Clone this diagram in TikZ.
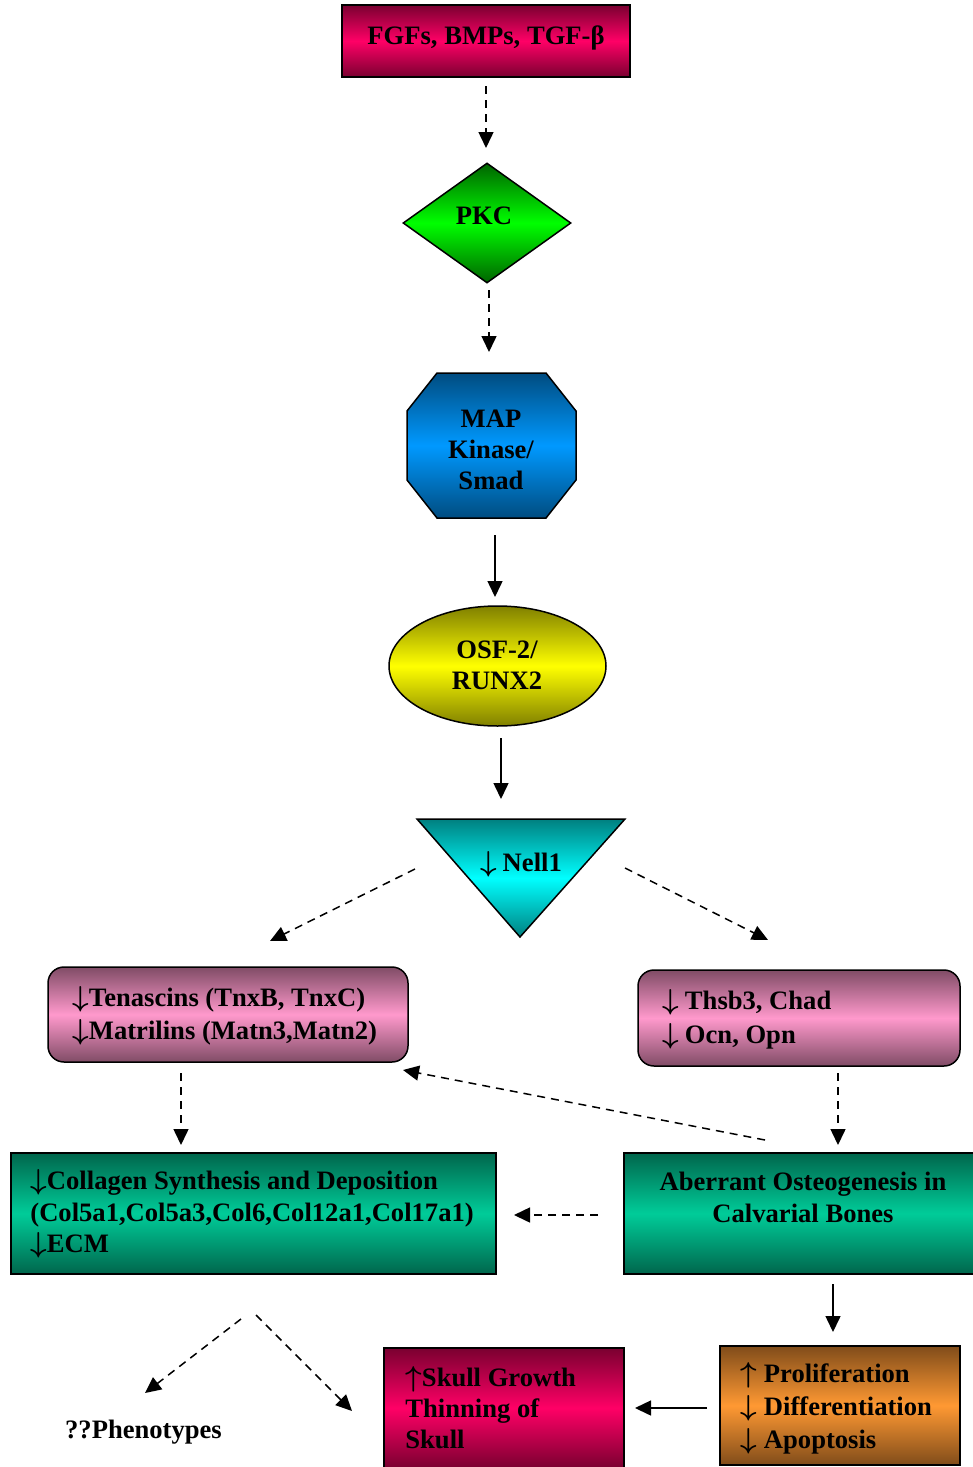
\documentclass[tikz,border=0pt]{standalone}
\usepackage{fontspec}
\setmainfont{Liberation Serif}
\usetikzlibrary{shapes.geometric,arrows.meta}
\definecolor{fgfdark}{HTML}{7A0030}
\definecolor{fgfmid}{HTML}{FF0066}
\definecolor{pkcdark}{HTML}{006400}
\definecolor{pkcmid}{HTML}{00FF00}
\definecolor{mapdark}{HTML}{004C80}
\definecolor{mapmid}{HTML}{0099FF}
\definecolor{osfdark}{HTML}{808000}
\definecolor{osfmid}{HTML}{FFFF00}
\definecolor{nelldark}{HTML}{008080}
\definecolor{nellmid}{HTML}{00FFFF}
\definecolor{pinkdark}{HTML}{804C66}
\definecolor{pinkmid}{HTML}{FF99CC}
\definecolor{greendark}{HTML}{00664C}
\definecolor{greenmid}{HTML}{00CC99}
\definecolor{orangedark}{HTML}{804C1A}
\definecolor{orangemid}{HTML}{FF9933}
\newcommand\myfnt[1]{\fontsize{13.3}{#1}\selectfont\bfseries}
\newcommand\mydn{{\boldmath$\downarrow$}}
\newcommand\myup{{\boldmath$\uparrow$}}
\tikzset{
  box/.style={draw=black, line width=0.75pt, inner sep=0pt},
  grad/.style 2 args={top color=#1, bottom color=#1, middle color=#2},
  lbl/.style={inner sep=0pt, align=left, font=\myfnt{16}},
  clbl/.style={inner sep=0pt, align=center, font=\myfnt{16}},
  dashar/.style={dash pattern=on 4pt off 3pt, line width=0.75pt, -{Triangle[length=8pt,width=7.5pt]}},
  solar/.style={line width=0.75pt, -{Triangle[length=8pt,width=7.5pt]}},
}
\begin{document}
\begin{tikzpicture}[x=0.5pt,y=-0.5pt]
\useasboundingbox (0,0) rectangle (973,1467);

% shapes
\node[box, grad={fgfdark}{fgfmid}, minimum width=144pt, minimum height=36pt] (fgf) at (486,41) {};
\node[box, diamond, grad={pkcdark}{pkcmid}, minimum width=84pt, minimum height=60pt] (pkc) at (487,223) {};
\path[box, grad={mapdark}{mapmid}] (437,373) -- (546,373) -- (576,411) -- (576,480) -- (546,518) -- (437,518) -- (407,480) -- (407,411) -- cycle;
\coordinate (map) at (491.5,445.5);
\node[box, ellipse, grad={osfdark}{osfmid}, minimum width=108.5pt, minimum height=60pt] (osf) at (497.5,666) {};
\path[box, grad={nelldark}{nellmid}] (417,819) -- (625,819) -- (520,937) -- cycle;
\coordinate (nell) at (520,860);
\node[box, rounded corners=8pt, grad={pinkdark}{pinkmid}, minimum width=180pt, minimum height=47.5pt] (pinkL) at (228,1014.5) {};
\node[box, rounded corners=8pt, grad={pinkdark}{pinkmid}, minimum width=161pt, minimum height=48pt] (pinkR) at (799,1018) {};
\node[box, grad={greendark}{greenmid}, minimum width=242.5pt, minimum height=60.5pt] (greenL) at (253.5,1213.5) {};
\node[box, grad={greendark}{greenmid}, minimum width=175.5pt, minimum height=60.5pt] (greenR) at (799.5,1213.5) {};
\node[box, grad={orangedark}{orangemid}, minimum width=120pt, minimum height=59.5pt] (orange) at (840,1405.5) {};
\node[box, grad={fgfdark}{fgfmid}, minimum width=120pt, minimum height=60pt] (skull) at (504,1408) {};

% texts
\node[clbl] (fgfT) at (486,38) {FGFs, BMPs, TGF-β};
\node[clbl] (pkcT) at (484,216) {PKC};
\node[clbl, font=\myfnt{15.5}] (mapT) at (491,450) {MAP\\Kinase/\\Smad};
\node[clbl, font=\myfnt{15.5}] (osfT) at (497,665) {OSF-2/\\RUNX2};
\node[clbl] (nellT) at (521,864) {\mydn\kern3pt Nell1};
\node[lbl, anchor=west, font=\myfnt{16.5}] (pinkLT) at (72,1016) {\mydn Tenascins (TnxB, TnxC)\\\mydn Matrilins (Matn3,Matn2)};
\node[lbl, anchor=west, font=\myfnt{17}] (pinkRT) at (662,1019) {\mydn\kern3pt Thsb3, Chad\\\mydn\kern3pt Ocn, Opn};
\node[lbl, anchor=west, font=\myfnt{15.75}] (greenLT) at (30,1214) {\mydn Collagen Synthesis and Deposition\\(Col5a1,Col5a3,Col6,Col12a1,Col17a1)\\\mydn ECM};
\node[clbl] (greenRT) at (803,1197) {Aberrant Osteogenesis in\\Calvarial Bones};
\node[lbl, anchor=west, font=\myfnt{16.5}] (orangeT) at (740,1408) {\myup\kern3.5pt Proliferation\\\mydn\kern3.5pt Differentiation\\\mydn\kern3.5pt Apoptosis};
\node[lbl, anchor=west, font=\myfnt{15.5}] (skullT) at (405,1408) {\myup Skull Growth\\Thinning of\\Skull};
\node[clbl] (phen) at (143.5,1432) {??Phenotypes};

% connector end points
\coordinate (a1s) at (486,86);   \coordinate (a1e) at (486,148);
\coordinate (a2s) at (489,290);  \coordinate (a2e) at (489,352);
\coordinate (a3s) at (495,535);  \coordinate (a3e) at (495,597);
\coordinate (a4s) at (501,738);  \coordinate (a4e) at (501,799);
\coordinate (a5s) at (415,869);  \coordinate (a5e) at (270,941);
\coordinate (a6s) at (625,868);  \coordinate (a6e) at (768,940);
\coordinate (a7s) at (181,1073); \coordinate (a7e) at (181,1145);
\coordinate (a8s) at (838,1073); \coordinate (a8e) at (838,1145);
\coordinate (a9s) at (765,1140); \coordinate (a9e) at (403,1070);
\coordinate (a10s) at (598,1215); \coordinate (a10e) at (514,1215);
\coordinate (a11s) at (833,1284); \coordinate (a11e) at (833,1332);
\coordinate (a12s) at (707,1408); \coordinate (a12e) at (635,1408);
\coordinate (a13s) at (241,1319); \coordinate (a13e) at (145,1393);
\coordinate (a14s) at (256,1315); \coordinate (a14e) at (352,1411);

% connectors
\draw[dashar] (a1s) -- (a1e);
\draw[dashar] (a2s) -- (a2e);
\draw[solar] (a3s) -- (a3e);
\draw[solar] (a4s) -- (a4e);
\draw[dashar] (a5s) -- (a5e);
\draw[dashar] (a6s) -- (a6e);
\draw[dashar] (a7s) -- (a7e);
\draw[dashar] (a8s) -- (a8e);
\draw[dashar] (a9s) -- (a9e);
\draw[dashar] (a10s) -- (a10e);
\draw[solar] (a11s) -- (a11e);
\draw[solar] (a12s) -- (a12e);
\draw[dashar] (a13s) -- (a13e);
\draw[dashar] (a14s) -- (a14e);
\end{tikzpicture}
\end{document}
